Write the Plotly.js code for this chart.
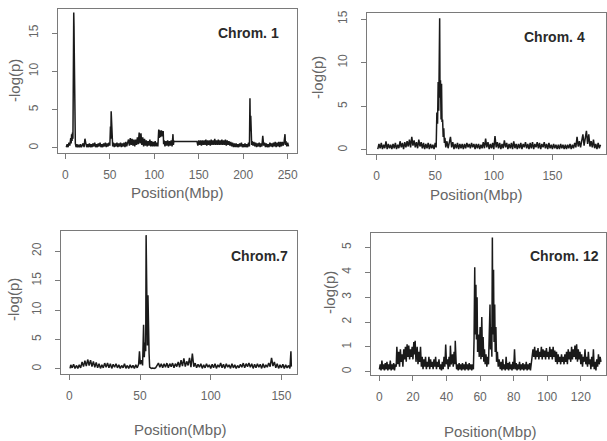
<!DOCTYPE html>
<html>
<head>
<meta charset="utf-8">
<script src="https://cdn.plot.ly/plotly-3.0.1.min.js"></script>
<style>html,body{margin:0;padding:0;background:#fff;}#chart{width:607px;height:441px;}</style>
</head>
<body>
<div id="chart"></div>
<script>
// ---------- Chromosome 1 ----------
const chr1Pos = [
 1,2,3,4,5,6,6.5,7,7.5,8,
 8.5,8.8,9.1,9.4,9.7,10,10.3,10.7,11.2,12,
 13,14,15,16,17,18,19,20,21,22,
 23,24,25,26,27,28,29,30,31,32,
 33,34,35,36,37,38,39,40,41,42,
 43,44,45,46,47,48,49,50,50.7,51.1,
 51.5,51.9,52.3,52.7,53.2,54,55,56,57,58,
 59,60,61,62,63,64,65,66,67,68,
 69,70,71,72,73,74,75,76,77,78,
 79,80,81,82,83,84,85,86,87,88,
 89,90,91,92,93,94,95,96,97,98,
 99,100,101,102,103,104,105,105.5,106,107,
 108,109,110,110.5,111,112,113,114,115,116,
 117,118,119,120,121,121.5,122,123,148,149,
 150,151,152,153,154,155,156,157,158,159,
 160,161,162,163,164,165,166,167,168,169,
 170,171,172,173,174,175,176,177,178,179,
 180,181,182,183,184,185,186,187,188,189,
 190,191,192,193,194,195,196,197,198,199,
 200,201,202,203,204,205,206,207,207.6,208,
 208.5,209,209.5,210,211,212,213,214,215,216,
 217,218,219,220,221,222,223,224,225,226,
 227,228,229,230,231,232,233,234,235,236,
 237,238,239,240,241,242,243,244,245,246,
 247,247.5,248,249,250,251
];
const chr1LogP = [
 0.1,0.5,0.1,0.7,0.3,1.3,0.6,1.8,0.9,2.0,
 1.2,5.5,2.0,17.7,16.0,12.5,4.0,1.1,0.6,0.1,
 0.5,0.1,0.4,0.1,0.5,0.1,0.4,0.6,0.1,1.2,
 0.6,0.1,0.5,0.1,0.6,0.1,0.5,0.1,0.6,0.2,
 0.7,0.1,0.5,0.1,0.6,0.2,0.7,0.1,0.5,0.1,
 0.6,0.2,0.7,0.1,0.6,0.2,0.7,0.3,2.8,1.2,
 4.8,3.0,4.5,1.5,0.2,0.7,0.1,0.6,0.2,0.7,
 0.1,0.6,0.2,0.7,0.1,0.6,0.2,0.7,0.1,0.8,
 0.2,0.7,1.1,0.3,1.3,0.4,1.2,0.3,1.1,0.2,
 1.1,0.4,1.4,0.5,2.0,0.6,1.9,0.4,1.4,0.2,
 1.2,0.3,1.0,0.2,0.9,0.3,1.1,0.2,0.9,0.2,
 0.8,0.2,0.9,0.2,0.7,0.2,2.4,1.3,2.3,1.4,
 2.3,1.5,2.2,0.5,1.0,0.2,0.9,0.3,1.0,0.2,
 0.9,0.3,1.0,0.2,1.8,0.4,0.9,0.85,0.85,0.3,
 1.0,0.4,1.0,0.3,1.0,0.4,1.0,0.4,1.1,0.3,
 1.0,0.4,1.0,0.3,1.1,0.4,1.0,0.4,1.2,0.4,
 1.0,0.4,1.1,0.4,1.0,0.4,1.1,0.4,1.0,0.4,
 1.1,0.3,1.0,0.4,0.9,0.3,0.8,0.2,0.7,0.1,
 0.6,0.1,0.6,0.1,0.5,0.1,0.6,0.2,0.7,0.1,
 0.5,0.1,0.6,0.1,0.5,0.1,0.7,0.2,6.5,2.2,
 4.2,1.0,0.4,0.9,0.3,0.8,0.2,0.7,0.1,0.6,
 0.2,0.7,0.1,0.6,0.2,1.6,0.3,0.7,0.1,0.6,
 0.1,0.5,0.1,0.7,0.2,0.6,0.1,0.7,0.2,0.8,
 0.1,0.7,0.2,0.8,0.1,0.8,0.2,0.8,0.3,0.8,
 1.8,0.4,0.9,0.2,0.7,0.2
];

// ---------- Chromosome 4 ----------
const chr4Pos = [
 1,2,3,4,5,6,7,8,9,10,
 11,12,13,14,15,16,17,18,19,20,
 21,22,23,24,25,26,27,28,29,30,
 31,32,33,34,35,36,37,38,39,40,
 41,42,43,44,45,46,47,48,49,50,
 50.8,51.4,52,52.5,53,53.5,53.8,54.1,54.5,55,
 55.4,55.8,56.3,56.8,57.3,57.8,58.3,59,60,61,
 62,63,64,65,66,67,68,69,70,71,
 72,73,74,75,76,77,78,79,80,81,
 82,83,84,85,86,87,88,89,90,91,
 92,93,94,95,96,97,98,99,100,101,
 102,103,104,105,106,107,108,109,110,111,
 112,113,114,115,116,117,118,119,120,121,
 122,123,124,125,126,127,128,129,130,131,
 132,133,134,135,136,137,138,139,140,141,
 142,143,144,145,146,147,148,149,150,151,
 152,153,154,155,156,157,158,159,160,161,
 162,163,164,165,166,167,168,169,170,171,
 172,173,174,175,176,177,178,179,180,181,
 182,183,184,185,186,187,188,189,190,191
];
const chr4LogP = [
 0.1,0.7,0.2,0.8,0.1,0.6,0.2,1.0,0.1,0.7,
 0.2,0.6,0.1,0.7,0.2,0.8,0.1,0.6,0.2,1.0,
 0.3,0.8,0.1,0.9,0.3,1.0,0.4,1.2,0.3,1.5,
 0.5,1.1,0.3,0.9,0.2,1.2,0.4,0.9,0.2,0.8,
 0.1,0.7,0.2,0.8,0.1,0.7,0.2,0.6,0.1,0.8,
 0.3,4.3,3.0,7.8,4.5,8.2,15.1,6.0,8.0,3.5,
 7.6,3.2,3.5,1.5,2.5,0.8,1.4,0.3,1.0,0.2,
 0.9,1.5,0.3,0.9,0.1,0.7,0.2,0.8,0.1,0.7,
 0.2,0.7,0.1,0.7,0.2,0.8,0.3,0.7,0.2,0.8,
 0.3,0.7,0.1,0.7,0.2,0.7,0.1,0.6,0.2,0.9,
 0.2,1.3,0.3,0.9,0.1,0.7,0.2,0.8,0.1,1.6,
 0.3,0.9,0.2,0.8,0.1,0.7,0.2,1.1,0.3,0.8,
 0.1,0.7,0.2,0.8,0.1,1.0,0.2,0.7,0.1,0.7,
 0.2,0.8,0.1,0.7,0.3,0.9,0.2,0.7,0.1,0.8,
 0.2,0.9,0.1,0.7,0.3,0.9,0.2,0.8,0.1,0.7,
 0.3,0.9,0.2,0.7,0.1,0.8,0.2,0.6,0.1,0.7,
 0.2,0.6,0.1,0.6,0.1,0.7,0.2,0.6,0.1,0.6,
 0.1,0.6,0.2,0.7,0.1,0.6,0.2,0.8,0.3,1.5,
 0.4,1.0,0.3,1.2,1.8,0.5,1.3,2.2,0.7,1.8,
 0.4,1.0,0.3,1.2,0.2,0.7,0.1,0.8,0.2,0.6
];

// ---------- Chromosome 7 ----------
const chr7Pos = [
 0.5,1,2,3,4,5,6,7,8,9,
 10,11,12,13,14,15,16,17,18,19,
 20,21,22,23,24,25,26,27,28,29,
 30,31,32,33,34,35,36,37,38,39,
 40,41,42,43,44,45,46,47,48,49,
 49.6,50.2,51,51.8,52.5,53,53.5,54,54.3,54.6,
 54.9,55.2,55.6,56,56.4,56.8,58,59,60,61,
 62,63,64,65,66,67,68,69,70,71,
 72,73,74,75,76,77,78,79,80,81,
 82,83,84,85,86,87,88,89,90,91,
 92,93,94,95,96,97,98,99,100,101,
 102,103,104,105,106,107,108,109,110,111,
 112,113,114,115,116,117,118,119,120,121,
 122,123,124,125,126,127,128,129,130,131,
 132,133,134,135,136,137,138,139,140,141,
 142,143,144,145,146,147,148,149,150,151,
 152,153,154,155,156,156.7,157
];
const chr7LogP = [
 0.1,0.7,0.2,0.8,0.1,0.6,0.1,0.7,0.2,1.2,
 0.4,1.4,0.5,1.6,0.6,1.5,0.4,1.3,0.3,1.1,
 0.2,0.9,0.1,0.7,0.2,1.0,0.3,1.0,0.2,0.9,
 0.1,0.8,0.3,0.9,0.2,0.7,0.1,0.6,0.2,0.9,
 0.1,0.6,0.1,0.7,0.2,0.6,0.1,0.7,0.2,0.8,
 3.0,0.8,1.5,0.6,7.5,2.0,4.5,3.0,22.7,13.0,
 18.3,4.0,12.5,4.5,2.6,0.3,0.1,0.15,0.1,0.2,
 0.7,1.0,0.3,0.9,0.2,0.9,0.3,1.0,0.2,0.9,
 0.4,1.0,0.2,0.9,0.4,1.2,0.3,1.5,0.5,1.8,
 0.4,1.3,0.6,1.9,0.3,2.6,0.4,1.0,0.2,0.8,
 0.3,0.9,0.1,0.7,0.2,0.9,0.3,0.7,0.1,0.8,
 0.2,0.9,0.1,0.7,0.3,1.0,0.2,0.8,0.1,0.9,
 0.3,0.7,0.1,0.9,0.2,0.7,0.1,0.6,0.2,0.8,
 0.3,1.0,0.2,0.9,0.4,1.0,0.3,0.9,0.1,0.8,
 0.2,0.9,0.3,0.8,0.1,0.9,0.2,0.7,0.3,1.0,
 0.4,1.9,0.5,1.2,0.2,0.9,0.1,0.7,0.2,0.8,
 0.1,0.7,0.2,0.6,0.1,3.0,0.4
];

// ---------- Chromosome 12 ----------
const chr12Pos = [
 0,0.5,1,1.5,2,2.5,3,3.5,4,4.5,
 5,5.5,6,6.5,7,7.5,8,8.5,9,9.5,
 10,10.4,11,11.5,12,12.5,13,13.5,14,14.5,
 15,15.5,16,16.5,17,17.5,18,18.5,19,19.5,
 20,20.5,21,21.3,21.8,22.5,23,23.5,24,24.5,
 25,25.5,26,26.5,27,27.5,28,28.5,29,29.5,
 30,30.5,31,31.5,32,32.5,33,33.5,34,34.5,
 35,35.5,36,36.5,37,37.5,38,38.5,39,39.5,
 40,40.5,41,41.5,42,42.3,42.8,43.5,44,44.5,
 45,45.2,45.7,46,46.5,47,47.5,48,48.5,49,
 49.5,50,50.5,51,51.5,52,52.5,53,53.5,54,
 54.5,55,55.5,56,56.4,56.8,57.1,57.5,57.8,58.2,
 58.5,59,59.5,60,60.5,61,61.4,61.8,62.2,62.6,
 63,63.5,64,64.5,65,65.5,65.9,66.2,66.6,67,
 67.3,67.6,68,68.3,68.7,69,69.4,69.8,70.3,70.8,
 71.3,72,72.5,73,73.5,74,74.5,75,75.5,76,
 76.5,77,77.5,78,78.5,79,79.5,80,80.5,81,
 81.5,82,82.5,83,83.5,84,84.5,85,85.5,86,
 86.5,87,87.5,88,88.5,89,89.5,90,90.5,91,
 91.5,92,92.5,93,93.5,94,94.5,95,95.5,96,
 96.5,97,97.5,98,98.5,99,99.5,100,100.5,101,
 101.5,102,102.5,103,103.5,104,104.5,105,105.5,106,
 106.5,107,107.5,108,108.5,109,109.5,110,110.5,111,
 111.5,112,112.5,113,113.5,114,114.5,115,115.5,116,
 116.5,117,117.5,118,118.5,119,119.5,120,120.5,121,
 121.5,122,122.5,123,123.5,124,124.5,125,125.5,126,
 126.5,127,127.5,128,128.5,129,129.5,130,130.5,131,
 131.5,132
];
const chr12LogP = [
 0.1,0.3,0.05,0.45,0.1,0.3,0.05,0.35,0.1,0.4,
 0.05,0.3,0.1,0.45,0.05,0.3,0.1,0.35,0.05,0.3,
 0.2,1.0,0.3,0.8,0.2,0.9,0.4,0.7,0.2,0.9,
 0.5,1.0,0.4,1.1,0.6,1.05,0.5,0.9,0.6,1.0,
 0.5,1.2,0.7,1.25,0.4,1.0,0.3,0.8,0.4,1.0,
 0.2,0.6,0.1,0.5,0.2,0.6,0.1,0.4,0.2,0.6,
 0.1,0.5,0.2,0.4,0.1,0.5,0.2,0.6,0.1,0.4,
 0.2,0.5,0.1,0.3,0.05,0.4,0.1,0.6,0.2,1.1,
 0.3,0.5,0.1,0.6,0.2,1.05,0.3,0.7,0.2,0.8,
 0.3,1.25,0.4,0.1,0.3,0.05,0.35,0.1,0.3,0.05,
 0.35,0.1,0.3,0.05,0.4,0.1,0.3,0.05,0.35,0.1,
 0.3,0.05,0.3,0.1,1.3,4.2,1.5,3.5,1.3,3.0,
 0.8,1.5,0.6,1.8,0.5,2.2,0.6,1.4,0.4,0.9,
 0.3,0.7,0.2,0.6,0.3,1.5,2.7,0.9,1.8,0.6,
 5.4,1.5,4.1,1.2,2.7,0.8,1.8,0.4,0.8,0.2,
 0.5,0.1,0.4,0.05,0.5,0.1,0.3,0.05,0.6,0.1,
 0.35,0.05,0.4,0.1,0.3,0.05,0.4,0.1,0.9,0.1,
 0.35,0.05,0.3,0.1,0.4,0.05,0.3,0.1,0.35,0.05,
 0.3,0.1,0.4,0.05,0.3,0.1,0.35,0.05,0.3,0.5,
 0.9,0.6,1.0,0.5,0.85,0.6,0.95,0.5,0.8,0.6,
 1.0,0.5,0.9,0.6,0.85,0.5,0.95,0.6,0.8,0.5,
 1.0,0.6,0.9,0.5,1.0,0.6,0.85,0.4,0.8,0.3,
 0.7,0.4,0.6,0.3,0.7,0.4,0.6,0.3,0.7,0.4,
 0.8,0.3,0.9,0.5,0.8,0.4,1.0,0.5,0.9,0.6,
 1.05,0.5,1.1,0.4,0.9,0.5,0.8,0.3,0.7,0.2,
 0.6,0.4,0.9,0.3,0.6,0.2,0.8,0.3,0.5,0.1,
 0.6,0.2,0.9,0.1,0.4,0.05,0.5,0.2,0.7,0.3,
 0.6,0.4
];

// ---------- labels & ticks ----------
const panelLabels = ["Chrom. 1", "Chrom. 4", "Chrom.7", "Chrom. 12"];
const xTitle = "Position(Mbp)";
const yTitle = "-log(p)";
const xTicks = [[0,50,100,150,200,250],[0,50,100,150],[0,50,100,150],[0,20,40,60,80,100,120]];
const yTicks = [[0,5,10,15],[0,5,10,15],[0,5,10,15,20],[0,1,2,3,4,5]];

const W = 607, H = 441;
const REG = '"Liberation Sans", Arial, sans-serif';
const AX = '#7a7a7a', TXT = '#666666', LINE = '#1a1a1a';

// panel boxes in pixels: [left, top, right, bottom], plus axis ranges
const boxes = [
  {px:[58,9,297,153],  xr:[-8.3,260.5], yr:[-0.66,18.15]},
  {px:[367,13,606,154], xr:[-8.2,195.7], yr:[-0.46,15.7]},
  {px:[61,231,297,374], xr:[-5.9,161],   yr:[-0.85,23.4]},
  {px:[371,233,606,375], xr:[-5,135],    yr:[-0.13,5.58]}
];
const xTitlePos = [[177,192],[476,194],[180,429],[490,431]];
const yTitlePos = [[15,81],[318,78],[13,300],[329,292]];
const labelPos = [[248,33],[554,37],[259,256],[564,256]];

const series = [[chr1Pos,chr1LogP],[chr4Pos,chr4LogP],[chr7Pos,chr7LogP],[chr12Pos,chr12LogP]];

const data = [];
const layout = {
  width: W, height: H, margin: {l:0,r:0,t:0,b:0},
  paper_bgcolor: '#fff', plot_bgcolor: '#fff', showlegend: false,
  annotations: []
};

series.forEach((s, i) => {
  const n = i === 0 ? '' : String(i + 1);
  data.push({
    type: 'scatter', mode: 'lines', x: s[0], y: s[1],
    xaxis: 'x' + n, yaxis: 'y' + n,
    line: {color: LINE, width: 1.5}, hoverinfo: 'skip'
  });
  const b = boxes[i];
  layout['xaxis' + n] = {
    domain: [b.px[0] / W, b.px[2] / W], range: b.xr, anchor: 'y' + n,
    showline: true, mirror: true, linecolor: AX, linewidth: 1,
    ticks: 'outside', ticklen: 5, tickcolor: AX, tickwidth: 1,
    tickmode: 'array', tickvals: xTicks[i], ticktext: xTicks[i].map(String),
    tickfont: {family: REG, size: 12, color: TXT},
    ticklabelstandoff: 6,
    showgrid: false, zeroline: false, fixedrange: true
  };
  layout['yaxis' + n] = {
    domain: [1 - b.px[3] / H, 1 - b.px[1] / H], range: b.yr, anchor: 'x' + n,
    showline: true, mirror: true, linecolor: AX, linewidth: 1,
    ticks: 'outside', ticklen: 5, tickcolor: AX, tickwidth: 1,
    tickmode: 'array', tickvals: yTicks[i], ticktext: yTicks[i].map(String),
    tickfont: {family: REG, size: 12, color: TXT}, tickangle: -90,
    ticklabelstandoff: 9,
    showgrid: false, zeroline: false, fixedrange: true
  };
  layout.annotations.push({
    xref: 'paper', yref: 'paper', x: xTitlePos[i][0] / W, y: 1 - xTitlePos[i][1] / H,
    xanchor: 'center', yanchor: 'middle', showarrow: false, text: xTitle,
    font: {family: REG, size: 15, color: TXT}
  });
  layout.annotations.push({
    xref: 'paper', yref: 'paper', x: yTitlePos[i][0] / W, y: 1 - yTitlePos[i][1] / H,
    xanchor: 'center', yanchor: 'middle', showarrow: false, text: yTitle, textangle: -90,
    font: {family: REG, size: 15, color: TXT}
  });
  layout.annotations.push({
    xref: 'paper', yref: 'paper', x: labelPos[i][0] / W, y: 1 - labelPos[i][1] / H,
    xanchor: 'center', yanchor: 'middle', showarrow: false, text: '<b>' + panelLabels[i] + '</b>',
    font: {family: REG, size: 14, color: '#2a2a2a'}
  });
});

Plotly.newPlot('chart', data, layout, {staticPlot: true, displayModeBar: false});
</script>
</body>
</html>
